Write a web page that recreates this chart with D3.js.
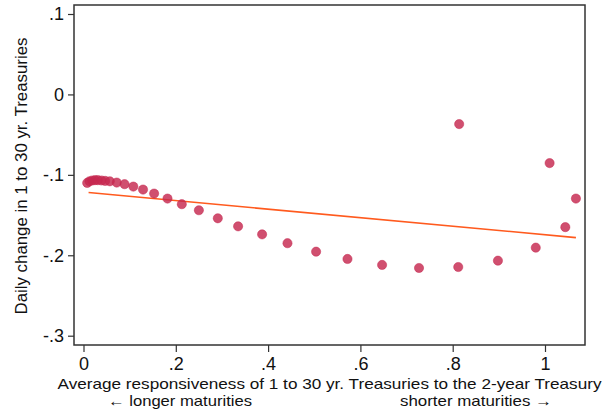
<!DOCTYPE html>
<html>
<head>
<meta charset="utf-8">
<script src="https://cdn.jsdelivr.net/npm/d3@7"></script>
<style>
  body { margin: 0; background: #fff; }
  text { font-family: "Liberation Sans", Arial, Helvetica, sans-serif; fill: #111; }
</style>
</head>
<body>
<svg id="chart" width="612" height="415"></svg>
<script>
// binned scatter: responsiveness vs daily change
const xVals = [0.008, 0.013, 0.019, 0.025, 0.031, 0.039, 0.047, 0.057, 0.072, 0.089,
  0.108, 0.129, 0.153, 0.182, 0.213, 0.250, 0.291, 0.335, 0.387, 0.442,
  0.504, 0.572, 0.647, 0.727, 0.812, 0.898, 0.980, 1.044, 1.067, 1.010, 0.814];
const yVals = [-0.110, -0.108, -0.107, -0.1066, -0.1066, -0.107, -0.1075, -0.108, -0.1096, -0.1116,
  -0.1146, -0.1183, -0.1233, -0.1295, -0.1365, -0.144, -0.154, -0.164, -0.174, -0.185,
  -0.1955, -0.2046, -0.212, -0.2158, -0.2146, -0.2067, -0.1905, -0.165, -0.1295, -0.0854, -0.0369];

// linear fit endpoints
const fitX = [0.011, 1.067];
const fitY = [-0.122, -0.178];

const xTicks = [0, 0.2, 0.4, 0.6, 0.8, 1];
const xTickLabels = ["0", ".2", ".4", ".6", ".8", "1"];
const yTicks = [0.1, 0, -0.1, -0.2, -0.3];
const yTickLabels = [".1", "0", "-.1", "-.2", "-.3"];

const svg = d3.select("#chart");

const x = d3.scaleLinear().domain([0, 1]).range([83.5, 545]);
const y = d3.scaleLinear().domain([-0.3, 0.1]).range([335.7, 14]);

const frame = { left: 74, top: 5, right: 585, bottom: 345 };

svg.append("rect")
    .attr("x", frame.left)
    .attr("y", frame.top)
    .attr("width", frame.right - frame.left)
    .attr("height", frame.bottom - frame.top)
    .attr("fill", "none")
    .attr("stroke", "#333")
    .attr("stroke-width", 1.5);

// axes
const xAxis = d3.axisBottom(x)
    .tickValues(xTicks)
    .tickFormat((d, i) => xTickLabels[i])
    .tickSize(7)
    .tickPadding(5);

const yAxis = d3.axisLeft(y)
    .tickValues(yTicks)
    .tickFormat((d, i) => yTickLabels[i])
    .tickSize(6)
    .tickPadding(4);

const gx = svg.append("g")
    .attr("transform", `translate(0,${frame.bottom})`)
    .call(xAxis);
gx.select(".domain").remove();
gx.selectAll("line").attr("stroke", "#333").attr("stroke-width", 1.2);
gx.selectAll("text")
    .style("font-size", "18px")
    .attr("fill", "#111");

const gy = svg.append("g")
    .attr("transform", `translate(${frame.left},0)`)
    .call(yAxis);
gy.select(".domain").remove();
gy.selectAll("line").attr("stroke", "#333").attr("stroke-width", 1.2);
gy.selectAll("text")
    .style("font-size", "18px")
    .attr("fill", "#111");

// fit line
svg.append("line")
    .attr("x1", x(fitX[0]))
    .attr("y1", y(fitY[0]))
    .attr("x2", x(fitX[1]))
    .attr("y2", y(fitY[1]))
    .attr("stroke", "#ff5a1e")
    .attr("stroke-width", 1.6);

// points
svg.append("g")
  .selectAll("circle")
  .data(xVals.map((v, i) => [v, yVals[i]]))
  .join("circle")
    .attr("cx", d => x(d[0]))
    .attr("cy", d => y(d[1]))
    .attr("r", 4.6)
    .attr("fill", "#c6284f")
    .attr("fill-opacity", 0.82)
    .attr("stroke", "#c6284f")
    .attr("stroke-opacity", 0.5)
    .attr("stroke-width", 1);

// titles
svg.append("text")
    .attr("transform", "translate(27,176) rotate(-90)")
    .attr("text-anchor", "middle")
    .attr("textLength", 277)
    .attr("lengthAdjust", "spacingAndGlyphs")
    .style("font-size", "16px")
    .text("Daily change in 1 to 30 yr. Treasuries");

svg.append("text")
    .attr("x", 329.5)
    .attr("y", 389)
    .attr("text-anchor", "middle")
    .attr("textLength", 544)
    .attr("lengthAdjust", "spacingAndGlyphs")
    .style("font-size", "15px")
    .text("Average responsiveness of 1 to 30 yr. Treasuries to the 2-year Treasury");

svg.append("text")
    .attr("x", 180)
    .attr("y", 406)
    .attr("text-anchor", "middle")
    .attr("textLength", 144)
    .attr("lengthAdjust", "spacingAndGlyphs")
    .style("font-size", "15px")
    .text("← longer maturities");

svg.append("text")
    .attr("x", 476)
    .attr("y", 406)
    .attr("text-anchor", "middle")
    .attr("textLength", 152)
    .attr("lengthAdjust", "spacingAndGlyphs")
    .style("font-size", "15px")
    .text("shorter maturities →");
</script>
</body>
</html>
